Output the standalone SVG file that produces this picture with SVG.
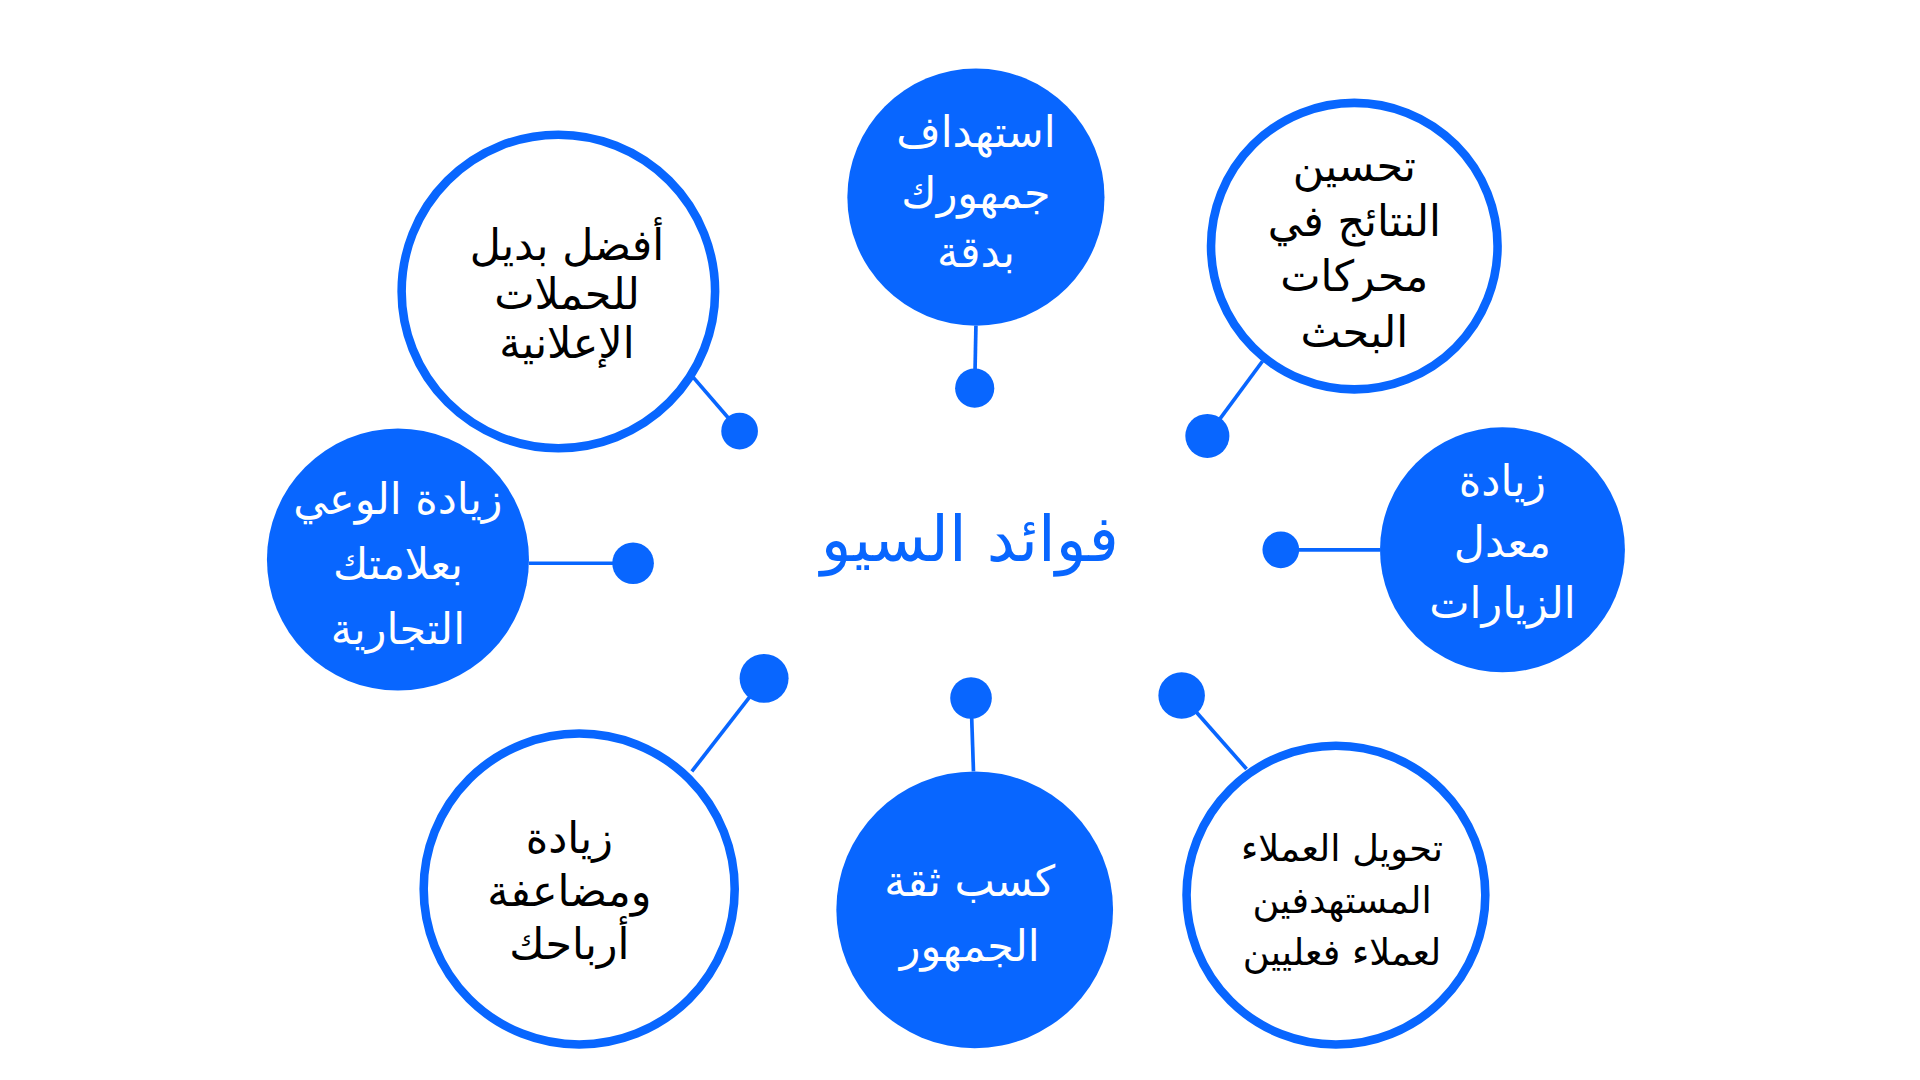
<svg xmlns="http://www.w3.org/2000/svg" width="1920" height="1080" viewBox="0 0 1920 1080">
<style>
.f{fill:#0866FF}
.o{fill:#fff;stroke:#0866FF;stroke-width:7}
.l{stroke:#0866FF;stroke-width:3}
text{font-family:"DejaVu Sans","Noto Sans",sans-serif;text-anchor:middle;direction:rtl;font-size:35px}
.w{fill:#fff}.b{fill:#000}
</style>
<rect width="1920" height="1080" fill="#fff"/>
<g transform="scale(1.2245)">
<g id="connectors">
<line class="l" x1="797" y1="266" x2="796" y2="317"/><circle class="f" cx="796" cy="317" r="16"/>
<line class="l" x1="1031" y1="295" x2="986" y2="356"/><circle class="f" cx="986" cy="356" r="18"/>
<line class="l" x1="1127" y1="449" x2="1046" y2="449"/><circle class="f" cx="1046" cy="449" r="15"/>
<line class="l" x1="1018" y1="628" x2="965" y2="568"/><circle class="f" cx="965" cy="568" r="19"/>
<line class="l" x1="795" y1="630" x2="793" y2="570"/><circle class="f" cx="793" cy="570" r="17"/>
<line class="l" x1="565" y1="630" x2="624" y2="554"/><circle class="f" cx="624" cy="554" r="20"/>
<line class="l" x1="432" y1="460" x2="517" y2="460"/><circle class="f" cx="517" cy="460" r="17"/>
<line class="l" x1="566" y1="308" x2="604" y2="352"/><circle class="f" cx="604" cy="352" r="15"/>
</g>
<g id="title"><text x="792" y="458" style="font-size:52px;fill:#0866FF">فوائد السيو</text></g>
<g id="n1"><circle class="f" cx="797" cy="161" r="105"/>
<text class="w" x="797" y="120">استهداف</text><text class="w" x="797" y="170">جمهورك</text><text class="w" x="797" y="218">بدقة</text></g>
<g id="n2"><circle class="o" cx="1106" cy="201" r="117"/>
<text class="b" x="1106" y="148">تحسين</text><text class="b" x="1106" y="193">النتائج في</text><text class="b" x="1106" y="238">محركات</text><text class="b" x="1106" y="283">البحث</text></g>
<g id="n3"><circle class="f" cx="1227" cy="449" r="100"/>
<text class="w" x="1227" y="405">زيادة</text><text class="w" x="1227" y="455">معدل</text><text class="w" x="1227" y="505">الزيارات</text></g>
<g id="n4"><circle class="o" cx="1091" cy="731" r="122"/>
<text class="b" x="1096" y="703" style="font-size:30px">تحويل العملاء</text><text class="b" x="1096" y="746" style="font-size:30px">المستهدفين</text><text class="b" x="1096" y="788" style="font-size:30px">لعملاء فعليين</text></g>
<g id="n5"><circle class="f" cx="796" cy="743" r="113"/>
<text class="w" x="792" y="732">كسب ثقة</text><text class="w" x="792" y="785">الجمهور</text></g>
<g id="n6"><circle class="o" cx="473" cy="726" r="127"/>
<text class="b" x="465" y="697">زيادة</text><text class="b" x="465" y="740">ومضاعفة</text><text class="b" x="465" y="783">أرباحك</text></g>
<g id="n7"><circle class="f" cx="325" cy="457" r="107"/>
<text class="w" x="325" y="420">زيادة الوعي</text><text class="w" x="325" y="473">بعلامتك</text><text class="w" x="325" y="526">التجارية</text></g>
<g id="n8"><circle class="o" cx="456" cy="238" r="128"/>
<text class="b" x="463" y="212">أفضل بديل</text><text class="b" x="463" y="252">للحملات</text><text class="b" x="463" y="292">الإعلانية</text></g>
</g>
</svg>
